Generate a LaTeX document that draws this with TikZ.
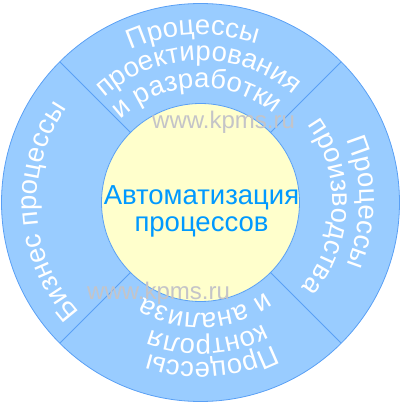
\documentclass[tikz,border=0pt]{standalone}
\usepackage{fontspec}
\setmainfont{Liberation Sans}
\usetikzlibrary{decorations.text}

\definecolor{ringblue}{RGB}{153,204,255}
\definecolor{edgeblue}{RGB}{90,160,245}
\definecolor{coreyellow}{RGB}{255,255,204}
\definecolor{coreblue}{RGB}{0,153,255}
\definecolor{markgray}{RGB}{196,196,200}

\newcommand\ringfont{\fontsize{27.5}{33}\selectfont}
% radius, centre angle, text
\newcommand\ringline[3]{%
  \path[decorate, decoration={text along path, text align=center, text color=white,
      text={|\ringfont|#3}}]
    (#2+80:#1) arc[start angle=#2+80, end angle=#2-80, radius=#1];}

\tikzset{
  sector line/.style={draw=edgeblue, line width=0.8pt},
  watermark/.style={text=markgray, font=\fontsize{24}{28}\selectfont, inner sep=0pt, anchor=base west}
}

\begin{document}
\begin{tikzpicture}[x=1pt, y=1pt]
\useasboundingbox (-200.5,-201.5) rectangle (200.5,202.5);

\fill[ringblue, draw=edgeblue, line width=0.8pt] (0,0) coordinate (o) circle[radius=199];
\foreach \a in {45,135,225,315}
    \draw[sector line] (\a:99) -- (\a:199);
\fill[coreyellow, draw=edgeblue, line width=0.8pt] (o) circle[radius=99];

\node[text=coreblue, align=center, inner sep=0pt, font=\fontsize{27.5}{27}\selectfont] (core) at (1,-9) {Автоматизация\\процессов};

% top
\ringline{168}{92.5}{Процессы}
\ringline{142}{91}{проектирования}
\ringline{115}{92}{и разработки}
% right
\ringline{159}{0}{Процессы}
\ringline{132}{-2}{производства}
% bottom
\ringline{160}{-86}{Процессы}
\ringline{137}{-87}{контроля}
\ringline{110.5}{-87.5}{и анализа}
% left
\ringline{163.5}{183.5}{Бизнес процессы}

\node[watermark] (mark top) at (-48.5,73.5) {www.kpms.ru};
\node[watermark] (mark bottom) at (-113.5,-96.5) {www.kpms.ru};
\end{tikzpicture}
\end{document}
